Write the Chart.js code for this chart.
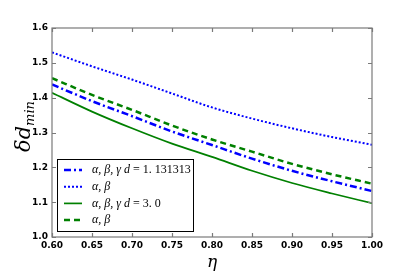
<!DOCTYPE html>
<html><head><meta charset="utf-8">
<script src="https://cdn.jsdelivr.net/npm/chart.js@4"></script>
<style>html,body{margin:0;padding:0;background:#fff}#wrap{width:415px;height:278px}</style>
</head><body><div id="wrap"><canvas id="c" width="415" height="278"></canvas></div>
<script>
const etaValues = [0.60, 0.65, 0.70, 0.75, 0.80, 0.85, 0.90, 0.95, 1.00];
const seriesDashDotBlue = [1.438, 1.390, 1.347, 1.303, 1.264, 1.225, 1.190, 1.160, 1.132];
const seriesDottedBlue  = [1.530, 1.490, 1.452, 1.412, 1.372, 1.340, 1.312, 1.287, 1.265];
const seriesSolidGreen  = [1.414, 1.360, 1.312, 1.268, 1.230, 1.190, 1.155, 1.125, 1.097];
const seriesDashedGreen = [1.456, 1.408, 1.365, 1.320, 1.280, 1.245, 1.210, 1.180, 1.153];
const seriesLabels = ['α, β, γ d = 1. 131313', 'α, β', 'α, β, γ d = 3. 0', 'α, β'];
const xTicks = [0.60, 0.65, 0.70, 0.75, 0.80, 0.85, 0.90, 0.95, 1.00];
const yTicks = [1.0, 1.1, 1.2, 1.3, 1.4, 1.5, 1.6];

const toPts = arr => arr.map((v, i) => ({x: etaValues[i], y: v}));
const datasets = [
  {label: seriesLabels[0], data: toPts(seriesDashDotBlue), borderColor: '#0000ff', borderWidth: 2.5, borderDash: [7, 3, 2, 3]},
  {label: seriesLabels[1], data: toPts(seriesDottedBlue), borderColor: '#0000ff', borderWidth: 2, borderDash: [2, 2]},
  {label: seriesLabels[2], data: toPts(seriesSolidGreen), borderColor: '#008000', borderWidth: 1.7, borderDash: []},
  {label: seriesLabels[3], data: toPts(seriesDashedGreen), borderColor: '#008000', borderWidth: 2.5, borderDash: [6, 4]}
].map(d => Object.assign(d, {fill: false, pointRadius: 0, cubicInterpolationMode: 'monotone', borderCapStyle: 'butt'}));

const frameColor = '#7a7a7a';
const decor = {
  id: 'decor',
  afterDraw(chart) {
    const ctx = chart.ctx, a = chart.chartArea, xs = chart.scales.x, ys = chart.scales.y;
    ctx.save();
    ctx.strokeStyle = frameColor; ctx.lineWidth = 1.2; ctx.setLineDash([]);
    ctx.strokeRect(a.left, a.top, a.right - a.left, a.bottom - a.top);
    ctx.beginPath();
    xTicks.forEach(t => { const px = Math.round(xs.getPixelForValue(t)) + 0.5;
      ctx.moveTo(px, a.bottom); ctx.lineTo(px, a.bottom - 4);
      ctx.moveTo(px, a.top); ctx.lineTo(px, a.top + 4); });
    yTicks.forEach(t => { const py = Math.round(ys.getPixelForValue(t)) + 0.5;
      ctx.moveTo(a.left, py); ctx.lineTo(a.left + 4, py);
      ctx.moveTo(a.right, py); ctx.lineTo(a.right - 4, py); });
    ctx.stroke();
    // legend
    const lx = 57.5, ly = 159.5, lw = 136, lh = 72;
    ctx.fillStyle = '#fff'; ctx.fillRect(lx, ly, lw, lh);
    ctx.strokeStyle = '#000'; ctx.lineWidth = 1; ctx.strokeRect(lx, ly, lw, lh);
    chart.data.datasets.forEach((d, i) => {
      const y = 170 + i * 16.7;
      ctx.beginPath(); ctx.strokeStyle = d.borderColor; ctx.lineWidth = d.borderWidth;
      ctx.setLineDash(d.borderDash || []); ctx.moveTo(64, y); ctx.lineTo(82, y); ctx.stroke();
      ctx.setLineDash([]);
      ctx.fillStyle = '#000'; ctx.textBaseline = 'middle'; ctx.textAlign = 'left';
      const parts = d.label.split('=');
      ctx.font = 'italic 12px "Liberation Serif"';
      ctx.fillText(parts[0], 92, y);
      if (parts.length > 1) {
        let w = ctx.measureText(parts[0]).width;
        ctx.font = '12px "Liberation Serif"';
        ctx.fillText('= ' + parts[1].trim(), 92 + w, y);
      }
    });
    // axis titles
    ctx.fillStyle = '#000';
    ctx.font = 'italic 17px "DejaVu Serif"'; ctx.textAlign = 'center'; ctx.textBaseline = 'alphabetic';
    ctx.fillText('η', (a.left + a.right) / 2, 267);
    ctx.translate(30, (a.top + a.bottom) / 2 - 6); ctx.rotate(-Math.PI / 2);
    ctx.font = 'italic 21px "DejaVu Serif"';
    const main = 'δd', sub = 'min';
    const w1 = ctx.measureText(main).width;
    ctx.font = 'italic 13px "DejaVu Serif"';
    const w2 = ctx.measureText(sub).width;
    const start = -(w1 + w2) / 2;
    ctx.textAlign = 'left';
    ctx.font = 'italic 21px "DejaVu Serif"'; ctx.fillText(main, start, 0);
    ctx.font = 'italic 13px "DejaVu Serif"'; ctx.fillText(sub, start + w1, 4);
    ctx.restore();
  }
};

new Chart(document.getElementById('c'), {
  type: 'line',
  data: {datasets},
  options: {
    responsive: false, animation: false,
    layout: {padding: {left: 0, right: 43, top: 28, bottom: 0}},
    plugins: {legend: {display: false}, tooltip: {enabled: false}},
    scales: {
      x: {type: 'linear', min: 0.6, max: 1.0,
        afterBuildTicks: s => { s.ticks = xTicks.map(v => ({value: v})); },
        afterFit: s => { s.height = 41; },
        grid: {display: false, drawTicks: false}, border: {display: false},
        ticks: {padding: 3, color: '#000', font: {family: 'DejaVu Sans', size: 9, weight: 'bold'}, callback: v => v.toFixed(2)}},
      y: {type: 'linear', min: 1.0, max: 1.6,
        afterBuildTicks: s => { s.ticks = yTicks.map(v => ({value: v})); },
        afterFit: s => { s.width = 52; },
        grid: {display: false, drawTicks: false}, border: {display: false},
        ticks: {padding: 4, color: '#000', font: {family: 'DejaVu Sans', size: 9, weight: 'bold'}, callback: v => v.toFixed(1)}}
    }
  },
  plugins: [decor]
});
</script></body></html>
